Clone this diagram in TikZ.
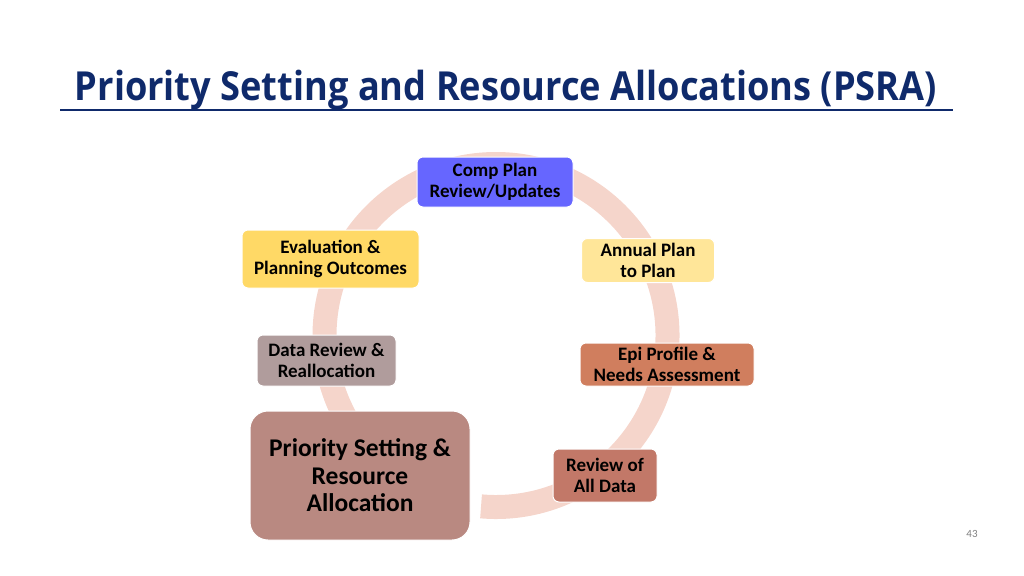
\documentclass[tikz,border=0pt]{standalone}
\usepackage{fontspec}
\setmainfont{Carlito}
\newfontfamily\titlefont{Open Sans}
\usetikzlibrary{arrows.meta,bending}
\definecolor{navy}{HTML}{0F2A6B}
\definecolor{ringpink}{HTML}{F5D5CB}
\definecolor{compblue}{HTML}{6666FF}
\definecolor{evalyellow}{HTML}{FFD966}
\definecolor{annualyellow}{HTML}{FFE699}
\definecolor{datamauve}{HTML}{B09C9C}
\definecolor{epiorange}{HTML}{D07E5E}
\definecolor{priobrown}{HTML}{B98981}
\definecolor{reviewbrown}{HTML}{C27868}

\begin{document}
\begin{tikzpicture}
[x=1pt,y=-1pt,>=stealth,
 stepbox/.style={draw=white,line width=1pt,rounded corners=6pt,align=center,inner sep=0pt,
   font=\bfseries\fontsize{19}{21}\selectfont},
 ring/.style={draw=ringpink,line width=24pt}]

\useasboundingbox (0,0) rectangle (1024,575);

% the title
\node (title) at (506,100)[anchor=base,text=navy,font=\titlefont\bfseries\fontsize{40}{44}\selectfont]
  {\scalebox{0.905}[1]{Priority Setting and Resource Allocations (PSRA)}};
\coordinate (L) at (60,110);
\coordinate (R) at (953,110);
\draw[navy,line width=2.5pt] (L) -- (R);

% the centre of the cycle
\coordinate (O) at (496,335.5);

% the ring
\draw[ring,-{Triangle[width=44pt,length=20pt]}]
  (O) ++(95:171.5) arc [radius=171.5,start angle=95,end angle=-240];

% the boxes
\node (CP) at (495,182)[stepbox,fill=compblue,minimum width=156pt,minimum height=50pt] {Comp Plan\\Review/Updates};
\node (AP) at (648,260.5)[stepbox,fill=annualyellow,minimum width=133pt,minimum height=44pt] {Annual Plan\\to Plan};
\node (EP) at (667,364.5)[stepbox,fill=epiorange,minimum width=174pt,minimum height=43pt] {Epi Profile \&\\Needs Assessment};
\node (RD) at (605,475.5)[stepbox,fill=reviewbrown,minimum width=104pt,minimum height=53pt] {Review of\\All Data};
\node (PS) at (360,475.5)[stepbox,fill=priobrown,rounded corners=18pt,minimum width=220pt,minimum height=129pt,
  font=\bfseries\fontsize{25.5}{27.5}\selectfont] {Priority Setting \&\\Resource\\Allocation};
\node (DR) at (326.5,360.5)[stepbox,fill=datamauve,minimum width=139pt,minimum height=51pt] {Data Review \&\\Reallocation};
\node (EV) at (330.5,259)[stepbox,fill=evalyellow,minimum width=177pt,minimum height=58pt] {Evaluation \&\\Planning Outcomes};

% the page number
\node (num) at (972,534)[text=black!50,font=\fontsize{11}{13}\selectfont] {43};
\end{tikzpicture}
\end{document}
